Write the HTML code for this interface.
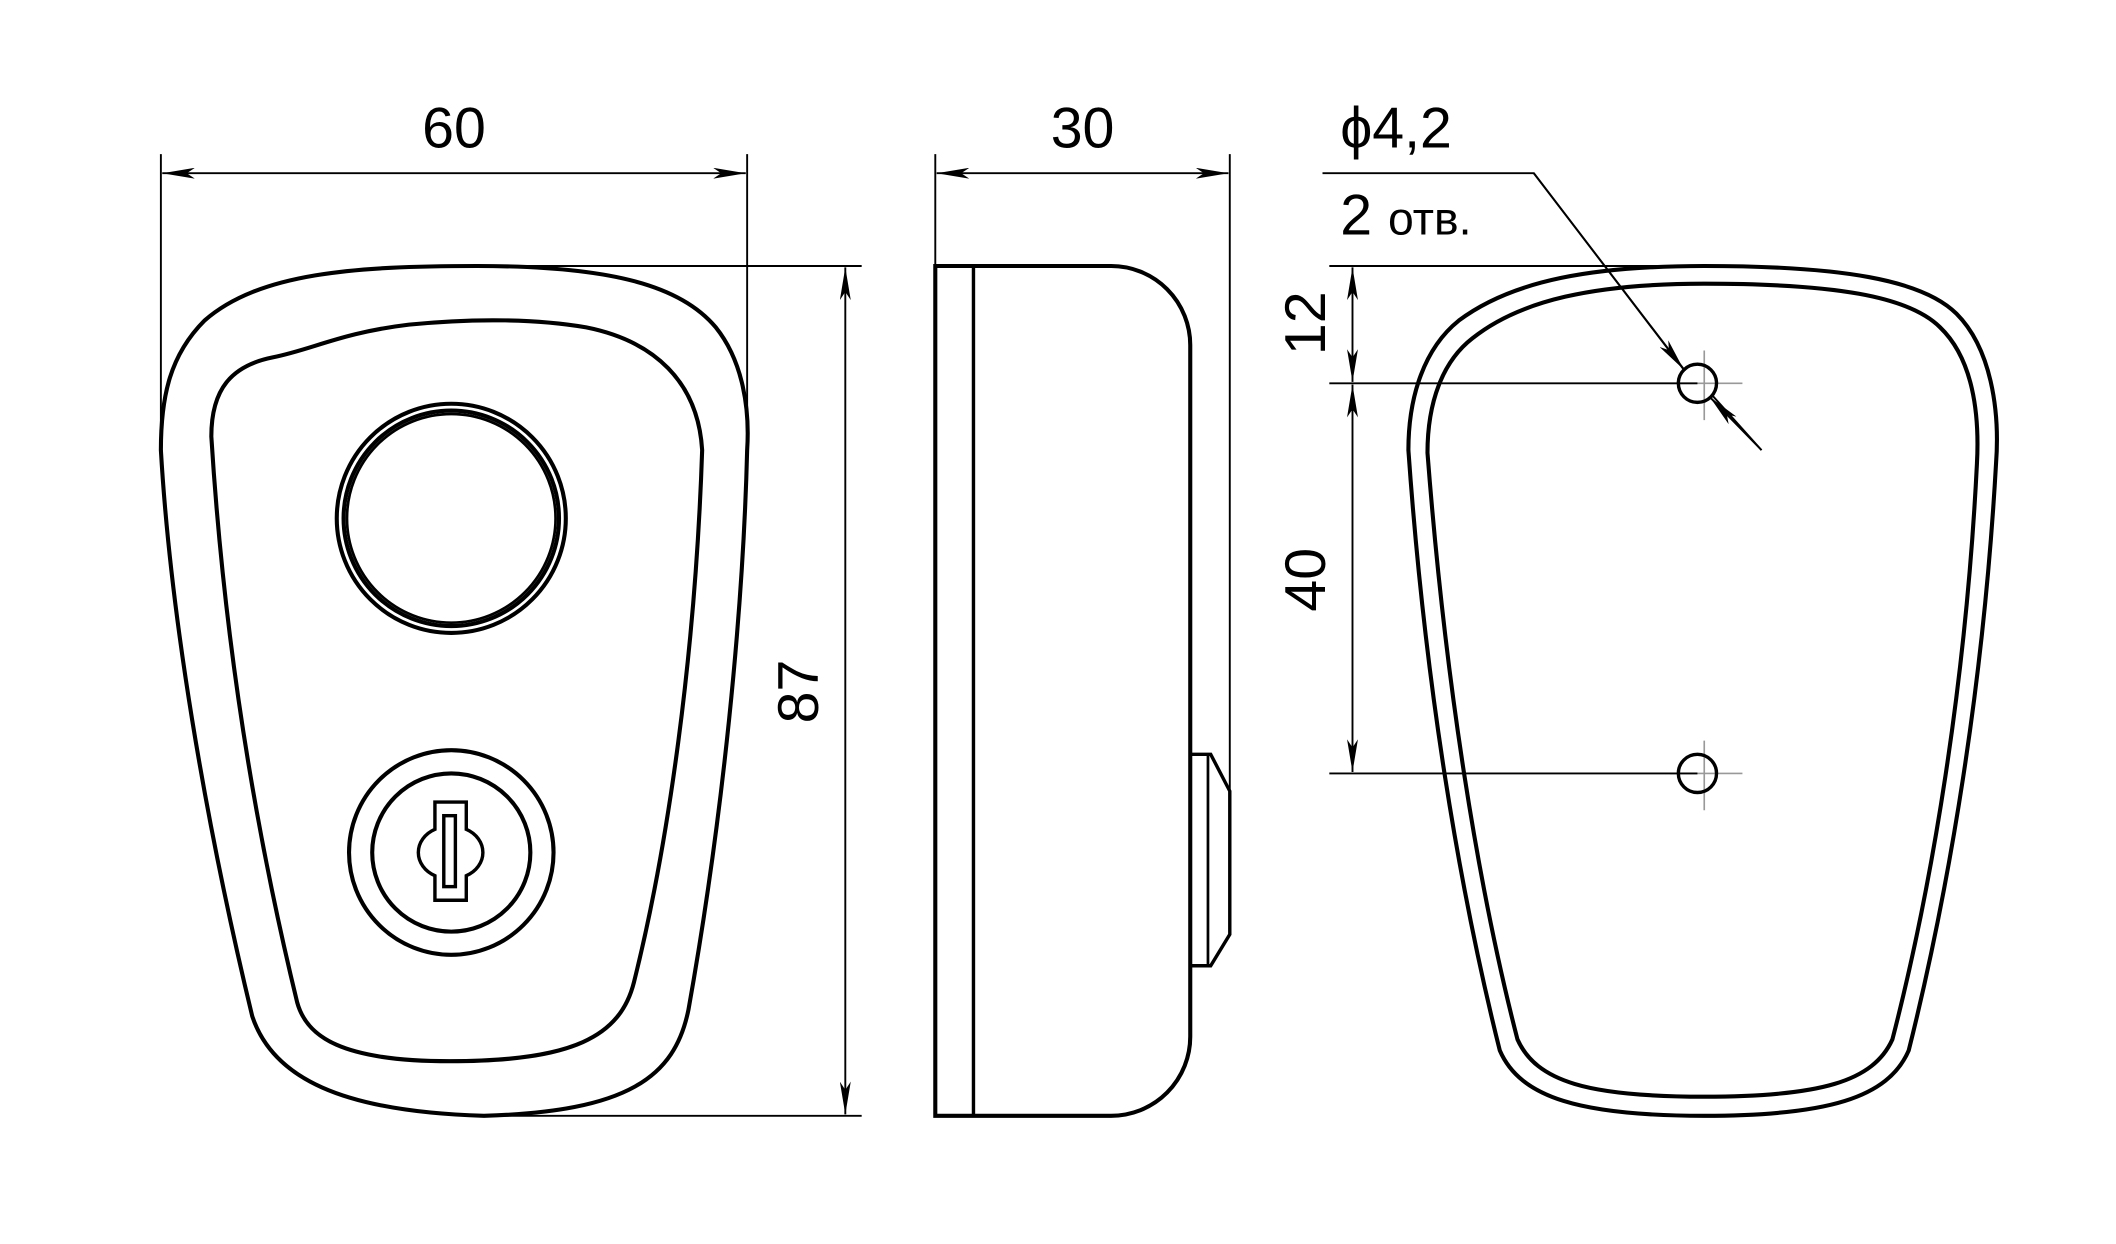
<!DOCTYPE html>
<html><head><meta charset="utf-8"><style>
html,body{margin:0;padding:0;background:#fff;}
svg{display:block;}
text{font-family:"Liberation Sans",sans-serif;fill:#000;}
</style></head><body>
<svg width="2116" height="1244" viewBox="0 0 1552 912" preserveAspectRatio="none" xmlns="http://www.w3.org/2000/svg">
<defs>
<marker id="a" viewBox="0 0 24 8" refX="24" refY="4" markerWidth="24" markerHeight="8" markerUnits="userSpaceOnUse" orient="auto-start-reverse">
<path d="M0,0 L24,4 L0,8 L6,4 Z" fill="#000"/>
</marker>
</defs>
<g fill="none" stroke="#000">
<!-- FRONT VIEW -->
<path stroke-width="3" d="M350,195 C450,195 500,210 525,240 C545,265 550,300 548,330 C545,450 530,600 505,740 C495,790 460,815 355,818 C250,815 200,790 185,745 C150,600 125,450 118,330 C118,290 125,260 150,235 C190,200 260,195 350,195 Z"/>
<path stroke-width="3" d="M155,320 C155,285 170,268 200,262 C230,256 250,244 300,238 C350,233 395,234 430,240 C480,250 512,280 515,330 C510,480 490,620 465,720 C455,760 420,778 330,778 C250,778 225,760 218,735 C190,620 165,480 155,320 Z"/>
<circle cx="331" cy="380" r="84" stroke-width="3"/>
<circle cx="331" cy="380" r="79" stroke-width="3"/>
<circle cx="331" cy="380" r="76.5" stroke-width="2"/>
<circle cx="331" cy="625" r="75" stroke-width="3"/>
<circle cx="331" cy="625" r="58" stroke-width="3"/>
<path stroke-width="2.5" d="M319,588 L342,588 L342,608 A22,19 0 0 1 342,642 L342,660 L319,660 L319,642 A22,19 0 0 1 319,608 Z"/>
<rect x="325.5" y="598" width="8.5" height="52" stroke-width="2.5"/>
<!-- dims front -->
<g stroke-width="1.4">
<line x1="118" y1="113" x2="118" y2="320"/>
<line x1="548" y1="113" x2="548" y2="330"/>
<line x1="119" y1="127" x2="547" y2="127" marker-start="url(#a)" marker-end="url(#a)"/>
<line x1="350" y1="195" x2="632" y2="195"/>
<line x1="350" y1="818" x2="632" y2="818"/>
<line x1="620" y1="196" x2="620" y2="817" marker-start="url(#a)" marker-end="url(#a)"/>
</g>
<!-- SIDE VIEW -->
<path stroke-width="3" d="M686,195 L815,195 A58,58 0 0 1 873,253 L873,760 A58,58 0 0 1 815,818 L686,818 Z"/>
<line x1="714" y1="195" x2="714" y2="818" stroke-width="2.5"/>
<path stroke-width="2.5" d="M873,553 L888,553 L902,580 L902,685 L888,708 L873,708"/>
<line x1="886" y1="553" x2="886" y2="708" stroke-width="2"/>
<g stroke-width="1.4">
<line x1="686" y1="113" x2="686" y2="195"/>
<line x1="902" y1="113" x2="902" y2="580"/>
<line x1="687" y1="127" x2="901" y2="127" marker-start="url(#a)" marker-end="url(#a)"/>
</g>
<!-- BACK VIEW -->
<path stroke-width="3" d="M1250,195 C1350,195 1410,205 1435,230 C1460,255 1467,300 1464,340 C1455,500 1430,650 1400,770 C1385,805 1340,818 1250,818 C1160,818 1115,805 1100,770 C1070,650 1045,500 1033,330 C1033,290 1045,255 1070,235 C1110,205 1170,195 1250,195 Z"/>
<path stroke-width="3" d="M1250,208 C1345,208 1400,217 1423,240 C1447,263 1452,303 1450,340 C1442,500 1417,650 1388,762 C1374,793 1335,804 1250,804 C1165,804 1127,793 1113,762 C1084,650 1060,500 1047,332 C1047,295 1058,265 1080,248 C1115,220 1170,208 1250,208 Z"/>
<g stroke="#999" stroke-width="1.2">
<line x1="1250" y1="257" x2="1250" y2="308"/>
<line x1="1225" y1="281" x2="1278" y2="281"/>
<line x1="1250" y1="543" x2="1250" y2="594"/>
<line x1="1225" y1="567" x2="1278" y2="567"/>
</g>
<circle cx="1245" cy="281" r="14" stroke-width="2.5"/>
<circle cx="1245" cy="567" r="14" stroke-width="2.5"/>
<g stroke-width="1.4">
<line x1="975" y1="195" x2="1250" y2="195"/>
<line x1="975" y1="281" x2="1245" y2="281"/>
<line x1="975" y1="567" x2="1245" y2="567"/>
<line x1="992" y1="196" x2="992" y2="280" marker-start="url(#a)" marker-end="url(#a)"/>
<line x1="992" y1="282" x2="992" y2="566" marker-start="url(#a)" marker-end="url(#a)"/>
<polyline points="970,127 1125,127 1236,272"/>
<line x1="1292" y1="330" x2="1256" y2="290"/>
<line x1="1292" y1="330" x2="1254" y2="291" marker-end="url(#a)"/>
</g>
<line x1="1125" y1="127" x2="1235" y2="271" stroke-width="1.4" marker-end="url(#a)"/>
</g>
<text x="333" y="108" font-size="42" text-anchor="middle">60</text>
<text x="794" y="108" font-size="42" text-anchor="middle">30</text>
<text transform="translate(600,507) rotate(-90)" font-size="42" text-anchor="middle">87</text>
<text transform="translate(972,237) rotate(-90)" font-size="42" text-anchor="middle">12</text>
<text transform="translate(972,425) rotate(-90)" font-size="42" text-anchor="middle">40</text>
<text x="983" y="108" font-size="42">ϕ4,2</text>
<text x="983" y="172" font-size="42">2 <tspan font-size="34">отв.</tspan></text>
</svg>
</body></html>
